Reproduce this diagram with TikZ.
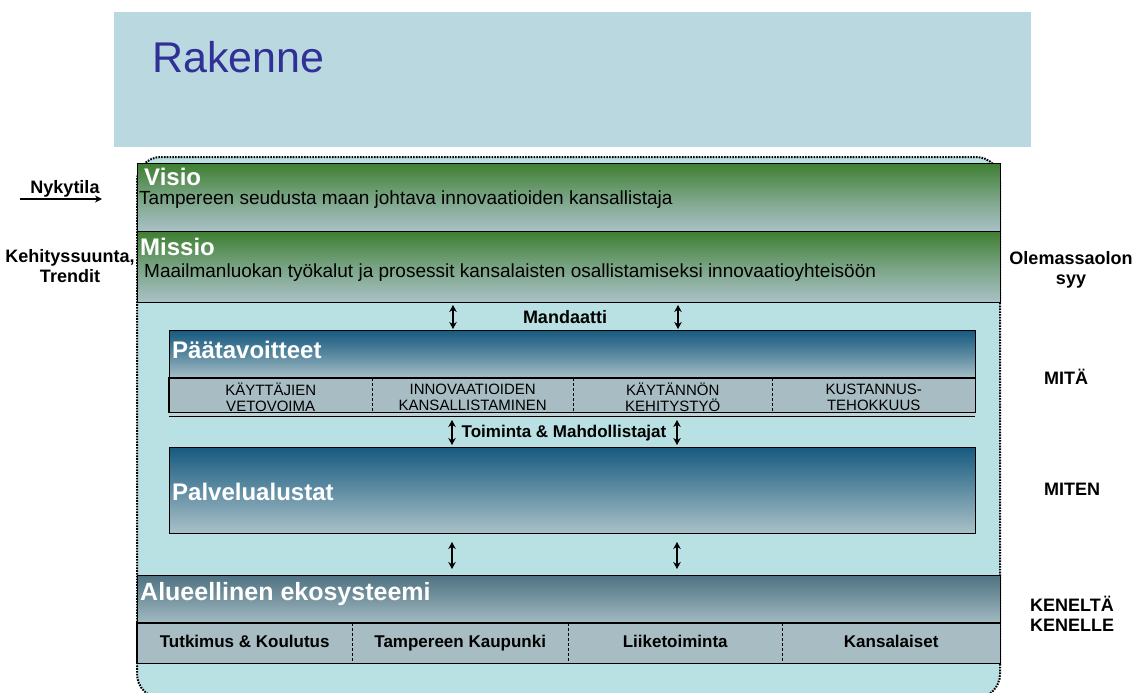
\documentclass[tikz,border=0pt]{standalone}
\usepackage{fontspec}
\setmainfont{Liberation Sans}
\usetikzlibrary{arrows.meta}
\definecolor{banner}{RGB}{186,216,223}
\definecolor{framefill}{RGB}{185,224,227}
\definecolor{leaf}{RGB}{62,127,49}
\definecolor{pale}{RGB}{170,194,200}
\definecolor{deepblue}{RGB}{24,90,128}
\definecolor{slate}{RGB}{80,114,130}
\definecolor{cellgray}{RGB}{168,189,195}
\definecolor{titleblue}{RGB}{48,48,150}
\tikzset{
  band/.style={draw=black, line width=1.2pt, anchor=north west, inner sep=0pt},
  cellbox/.style={fill=cellgray, anchor=north west, inner sep=0pt, align=center},
  bandtitle/.style={anchor=west, text=white, inner sep=0pt, font=\bfseries\fontsize{24}{24}\selectfont},
  bandtext/.style={anchor=west, inner sep=0pt, font=\fontsize{19}{19}\selectfont},
  sidelabel/.style={inner sep=0pt, align=center, font=\bfseries\fontsize{18}{20}\selectfont},
  linklabel/.style={inner sep=0pt, font=\bfseries\fontsize{17}{17}\selectfont},
  capcell/.style={font=\fontsize{15}{16}\selectfont},
  groupcell/.style={font=\bfseries\fontsize{17}{17}\selectfont, text height=12pt, text depth=3pt},
  twoway/.style={line width=1.4pt, {Stealth[length=7pt,width=7.5pt]}-{Stealth[length=7pt,width=7.5pt]}},
  sep/.style={densely dashed, line width=0.6pt}
}
\begin{document}
\begin{tikzpicture}[x=1pt,y=-1pt]
\useasboundingbox (0,0) rectangle (1133,693);

% heading banner
\fill[banner] (114,12) rectangle (1031,147);
\node[anchor=west, inner sep=0pt, text=titleblue, font=\fontsize{43}{43}\selectfont] (title) at (152,57) {Rakenne};

% dotted outer frame
\begin{scope}
  \clip (0,0) rectangle (1133,693);
  \draw[fill=framefill, line width=2pt, dash pattern=on 1.6pt off 1.2pt, rounded corners=24] (137,157) rectangle (1000,698);
\end{scope}

% Visio
\node[band, minimum width=863pt, minimum height=68pt, top color=leaf, bottom color=pale, middle color=leaf!45!pale] (visio) at (137,163) {};
\node[bandtitle] (visioT) at (144,177) {Visio};
\node[bandtext] (visioS) at (139,200) {Tampereen seudusta maan johtava innovaatioiden kansallistaja};

% Missio
\node[band, minimum width=863pt, minimum height=71pt, top color=leaf, bottom color=pale, middle color=leaf!45!pale] (missio) at (137,231) {};
\node[bandtitle] (missioT) at (140,247) {Missio};
\node[bandtext] (missioS) at (144,273) {Maailmanluokan työkalut ja prosessit kansalaisten osallistamiseksi innovaatioyhteisöön};

% Mandaatti links
\coordinate (m1a) at (453,305); \coordinate (m1b) at (453,329);
\coordinate (m2a) at (678,305); \coordinate (m2b) at (678,329);
\draw[twoway] (m1a) -- (m1b);
\draw[twoway] (m2a) -- (m2b);
\node[linklabel, font=\bfseries\fontsize{18}{18}\selectfont] (mandaatti) at (565,317) {Mandaatti};

% Päätavoitteet
\node[band, minimum width=806pt, minimum height=48pt, top color=deepblue, bottom color=pale, middle color=deepblue!55!pale] (paa) at (169,330) {};
\node[bandtitle] (paaT) at (172,350) {Päätavoitteet};
\node[cellbox, capcell, minimum width=203pt, minimum height=38pt] (p1) at (169,378) {KÄYTTÄJIEN\\VETOVOIMA};
\node[cellbox, capcell, minimum width=201pt, minimum height=38pt] (p2) at (372,378) {INNOVAATIOIDEN\\KANSALLISTAMINEN};
\node[cellbox, capcell, minimum width=199pt, minimum height=38pt] (p3) at (573,378) {KÄYTÄNNÖN\\KEHITYSTYÖ};
\node[cellbox, capcell, minimum width=203pt, minimum height=38pt] (p4) at (772,378) {KUSTANNUS-\\TEHOKKUUS};
\fill[cellgray!70!white] (p1.south west) rectangle ([yshift=4pt]p4.south east);
\draw[line width=1.2pt] (p1.north west) rectangle ([yshift=4pt]p4.south east);
\draw[line width=1pt] (p1.south west) -- (p4.south east);
\draw[sep] (p1.north east) -- ([yshift=4pt]p1.south east);
\draw[sep] (p2.north east) -- ([yshift=4pt]p2.south east);
\draw[sep] (p3.north east) -- ([yshift=4pt]p3.south east);

% Toiminta & Mahdollistajat links
\coordinate (t1a) at (452,420); \coordinate (t1b) at (452,445);
\coordinate (t2a) at (677,420); \coordinate (t2b) at (677,445);
\draw[twoway] (t1a) -- (t1b);
\draw[twoway] (t2a) -- (t2b);
\node[linklabel] (toiminta) at (564,433) {Toiminta \& Mahdollistajat};

% Palvelualustat
\node[band, minimum width=806pt, minimum height=86pt, top color=deepblue, bottom color=pale, middle color=deepblue!50!pale] (palv) at (169,447) {};
\node[bandtitle] (palvT) at (172,492) {Palvelualustat};

% links to the regional ecosystem
\coordinate (e1a) at (452,542); \coordinate (e1b) at (452,569);
\coordinate (e2a) at (677,542); \coordinate (e2b) at (677,569);
\draw[twoway] (e1a) -- (e1b);
\draw[twoway] (e2a) -- (e2b);

% Alueellinen ekosysteemi
\node[band, minimum width=863pt, minimum height=48pt, top color=slate, bottom color=pale!92!slate, middle color=slate!55!pale] (eko) at (137,575) {};
\node[bandtitle, font=\bfseries\fontsize{25}{25}\selectfont] (ekoT) at (140,594) {Alueellinen ekosysteemi};
\node[cellbox, groupcell, minimum width=215pt, minimum height=40pt] (g1) at (137,623) {Tutkimus \& Koulutus};
\node[cellbox, groupcell, minimum width=216pt, minimum height=40pt] (g2) at (352,623) {Tampereen Kaupunki};
\node[cellbox, groupcell, minimum width=214pt, minimum height=40pt] (g3) at (568,623) {Liiketoiminta};
\node[cellbox, groupcell, minimum width=218pt, minimum height=40pt] (g4) at (782,623) {Kansalaiset};
\draw[line width=1.2pt] (g1.north west) rectangle (g4.south east);
\draw[sep] (g1.north east) -- (g1.south east);
\draw[sep] (g2.north east) -- (g2.south east);
\draw[sep] (g3.north east) -- (g3.south east);

% side labels, left
\node[sidelabel] (nyky) at (65,189) {Nykytila};
\coordinate (ny1) at (20,199); \coordinate (ny2) at (102,199);
\draw[line width=1.8pt, -{Stealth[length=7pt,width=7pt]}] (ny1) -- (ny2);
\node[sidelabel] (kehitys) at (70,266) {Kehityssuunta,\\Trendit};

% side labels, right
\node[sidelabel] (olemassa) at (1071,270) {Olemassaolon\\syy};
\node[sidelabel] (mita) at (1066,377) {MITÄ};
\node[sidelabel] (miten) at (1072,489) {MITEN};
\node[sidelabel] (kenelle) at (1072,614) {KENELTÄ\\KENELLE};
\end{tikzpicture}
\end{document}
